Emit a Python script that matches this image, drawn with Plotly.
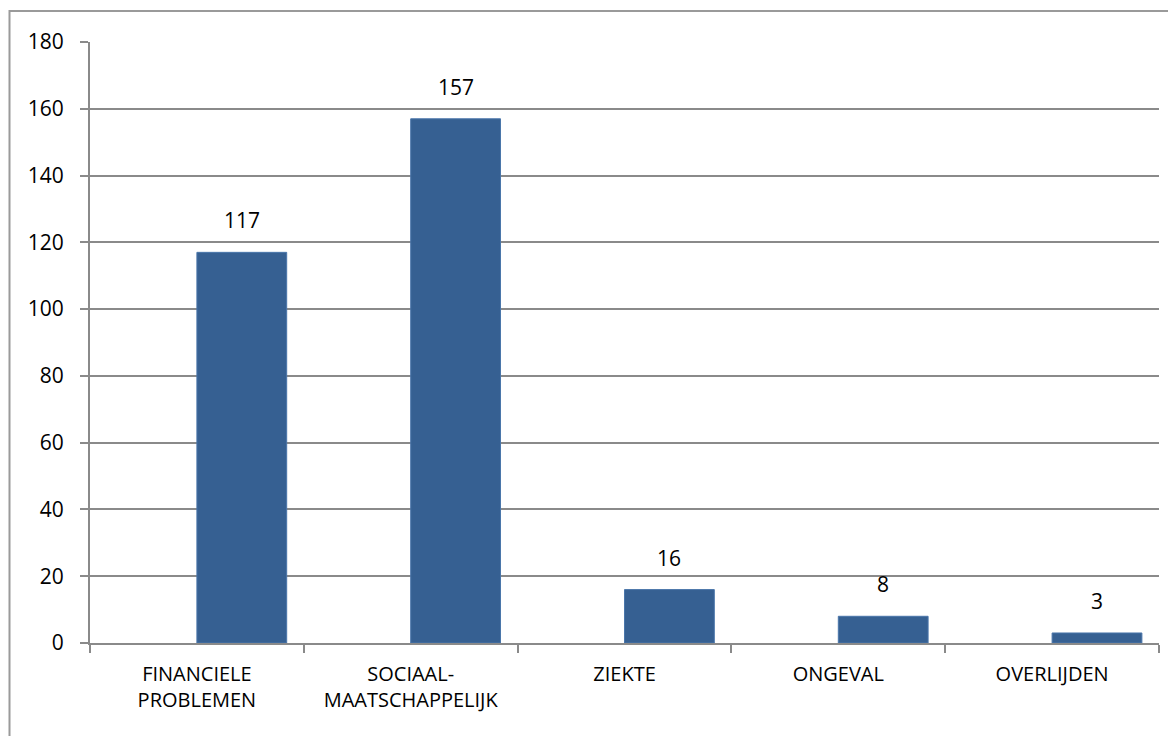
import plotly.graph_objects as go

categories = ["FINANCIELE<br>PROBLEMEN", "SOCIAAL-<br>MAATSCHAPPELIJK", "ZIEKTE", "ONGEVAL", "OVERLIJDEN"]
values = [117, 157, 16, 8, 3]
y_ticks = [0, 20, 40, 60, 80, 100, 120, 140, 160, 180]

BAR_COLOR = "#366092"
GRID_COLOR = "#8a8a8a"
FRAME_COLOR = "#9a9a9a"
FONT = "Open Sans, Liberation Sans, sans-serif"
BAR_W = 0.42

# page body has an 8px margin, so the figure is sized/offset for that
W, H = 1168, 728
M_L, M_R, M_T, M_B = 82, 17, 34, 93
PW, PH = W - M_L - M_R, H - M_T - M_B

fig = go.Figure()
fig.add_trace(
    go.Bar(
        x=categories,
        y=values,
        offset=0,
        width=BAR_W,
        marker=dict(color=BAR_COLOR, line=dict(color="#4a76aa", width=1)),
        showlegend=False,
    )
)

# value labels above each bar
for i, v in enumerate(values):
    fig.add_annotation(
        x=i + BAR_W / 2,
        y=v,
        text=str(v),
        showarrow=False,
        yanchor="bottom",
        yshift=16,
        font=dict(size=21, color="#000000", family=FONT),
    )

fig.update_layout(
    width=W,
    height=H,
    margin=dict(l=M_L, r=M_R, t=M_T, b=M_B),
    paper_bgcolor="white",
    plot_bgcolor="white",
    font=dict(family=FONT, color="#000000"),
)
fig.update_xaxes(
    type="category",
    tickson="boundaries",
    ticks="outside",
    ticklen=8,
    tickcolor=GRID_COLOR,
    tickwidth=2,
    showline=True,
    linecolor=GRID_COLOR,
    linewidth=2,
    showgrid=False,
    tickfont=dict(size=20),
    ticklabelstandoff=12,
    range=[-0.5, len(categories) - 0.5],
)
fig.update_yaxes(
    range=[0, 180],
    tickvals=y_ticks,
    ticks="outside",
    ticklen=8,
    tickcolor=GRID_COLOR,
    tickwidth=2,
    showline=True,
    linecolor=GRID_COLOR,
    linewidth=2,
    showgrid=True,
    gridcolor=GRID_COLOR,
    gridwidth=2,
    zeroline=False,
    tickfont=dict(size=21),
    ticklabelstandoff=12,
)

# chart frame: only the left and top edges fall inside the picture
fx = -(M_L - 1.5) / PW
fy = 1 + (M_T - 3) / PH
fig.add_shape(type="rect", xref="paper", yref="paper", x0=fx, x1=1 + (M_R + 30) / PW,
              y0=-(M_B + 30) / PH, y1=fy, line=dict(color=FRAME_COLOR, width=2),
              layer="above")

fig.write_html("out.html", config={"displayModeBar": False})
